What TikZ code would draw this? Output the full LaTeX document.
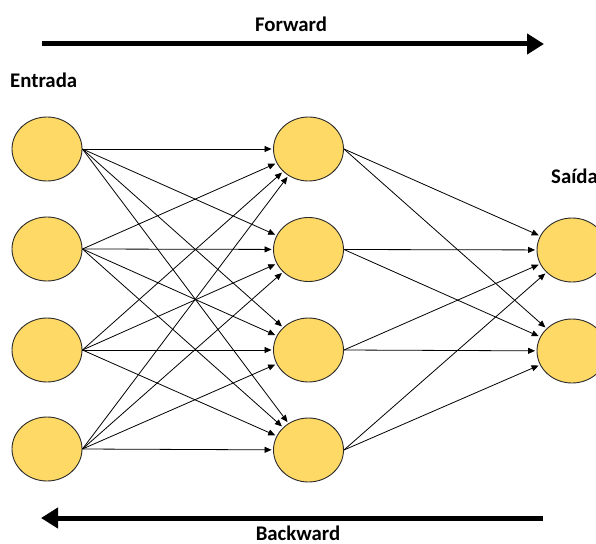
\documentclass[tikz,border=0pt]{standalone}
\usepackage{fontspec}
\setmainfont{Carlito}
\usetikzlibrary{shapes.geometric,arrows.meta}
\definecolor{neuronfill}{HTML}{FFD966}
\definecolor{neuronline}{HTML}{2B2B2B}
\begin{document}
\begin{tikzpicture}[x=1pt,y=-1pt,
  neuron/.style={ellipse,draw=neuronline,line width=0.9pt,fill=neuronfill,
    minimum width=70pt,minimum height=64pt,inner sep=0pt},
  link/.style={line width=0.8pt,-{Triangle[length=7pt,width=6pt]},shorten >=1.5pt},
  flow/.style={line width=5pt,-{Triangle[length=17pt,width=20pt]}},
  caption/.style={font=\fontsize{20.8}{24}\selectfont\bfseries,inner sep=0pt}]
\useasboundingbox (0,0) rectangle (596,543);

% input layer
\foreach \i/\y in {1/149,2/249,3/350,4/449}
  \node[neuron] (i\i) at (47,\y) {};
% hidden layer
\foreach \i/\y in {1/149,2/249.5,3/350,4/450}
  \node[neuron] (h\i) at (308.5,\y) {};
% output layer
\foreach \i/\y in {1/250,2/351}
  \node[neuron] (o\i) at (572,\y) {};

% connections input -> hidden
\foreach \a in {1,...,4}
  \foreach \b in {1,...,4}
    \draw[link] (i\a.east) -- (h\b);
% connections hidden -> output
\foreach \a in {1,...,4}
  \foreach \b in {1,2}
    \draw[link] (h\a.east) -- (o\b);

% labels
\node[caption,anchor=west] (lin) at (10,80) {Entrada};
\node[caption,anchor=west] (lout) at (551,176) {Saída};

% propagation directions
\coordinate (fwdA) at (42,44);
\coordinate (fwdB) at (544,44);
\draw[flow] (fwdA) -- (fwdB);
\node[caption] (fwd) at (291,24) {Forward};

\coordinate (bwdA) at (543,518);
\coordinate (bwdB) at (41,518);
\draw[flow] (bwdA) -- (bwdB);
\node[caption] (bwd) at (298,533.5) {Backward};
\end{tikzpicture}
\end{document}
